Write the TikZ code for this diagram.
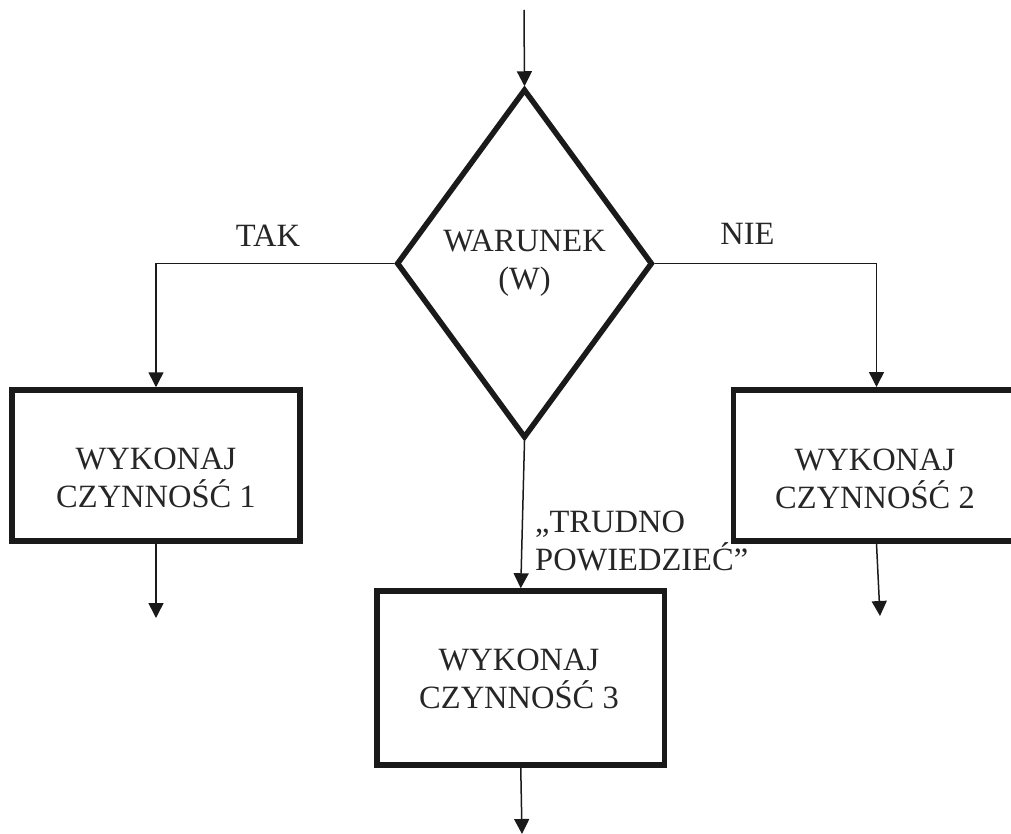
\documentclass[tikz,border=0pt]{standalone}
\usepackage{fontspec}
\setmainfont{Liberation Serif}
\usetikzlibrary{shapes.geometric,arrows.meta}
\definecolor{ink}{HTML}{1A1A1A}
\definecolor{txtgray}{HTML}{262626}
\begin{document}
\begin{tikzpicture}[x=1pt,y=-1pt,
  every node/.style={text=txtgray,font=\fontsize{32.5}{38}\selectfont},
  flow/.style={draw=ink,line width=1.5pt,-{Triangle[length=15pt,width=15pt]}},
  actbox/.style={draw=ink,line width=5.5pt,inner sep=0pt,rectangle},
  cond/.style={draw=ink,line width=5.5pt,diamond,inner sep=0pt,align=center},
  lbl/.style={inner sep=0pt,align=center}]
  \useasboundingbox (0,0) rectangle (1011,834);

  % decision
  \node[cond,minimum width=256pt,minimum height=349pt] (d) at (524.5,263.5) {WARUNEK\\(W)};

  % action boxes
  \node[actbox,minimum width=288pt,minimum height=151pt] (b1) at (156,465.5) {};
  \node[actbox,minimum width=281pt,minimum height=151pt] (b2) at (874,465.5) {};
  \node[actbox,minimum width=287.5pt,minimum height=174pt] (b3) at (520.75,678) {};

  \node[lbl] (t1) at (156,478) {WYKONAJ\\CZYNNOŚĆ 1};
  \node[lbl] (t2) at (875,478.5) {WYKONAJ\\CZYNNOŚĆ 2};
  \node[lbl] (t3) at (519,678.5) {WYKONAJ\\CZYNNOŚĆ 3};

  % branch labels
  \node[lbl] (tak) at (268,236) {TAK};
  \node[lbl] (nie) at (747.5,234) {NIE};
  \node[inner sep=0pt,align=left,anchor=north west] (tp) at (535,511) {„TRUDNO\\POWIEDZIEĆ”};

  % free ends
  \coordinate (in) at (524,10);
  \coordinate (o1) at (156,618);
  \coordinate (o2) at (880,616);
  \coordinate (o3) at (522,834);
  \coordinate (n2) at (876.5,387);

  % connectors
  \draw[flow] (in) -- (d.north);
  \draw[flow] (d.west) -| (b1.north);
  \draw[flow] (d.east) -| (n2);
  \draw[flow] (d.south) -- (b3.north);
  \draw[flow] (b1.south) -- (o1);
  \draw[flow] ([xshift=2.5pt]b2.south) -- (o2);
  \draw[flow] (b3.south) -- (o3);
\end{tikzpicture}
\end{document}
